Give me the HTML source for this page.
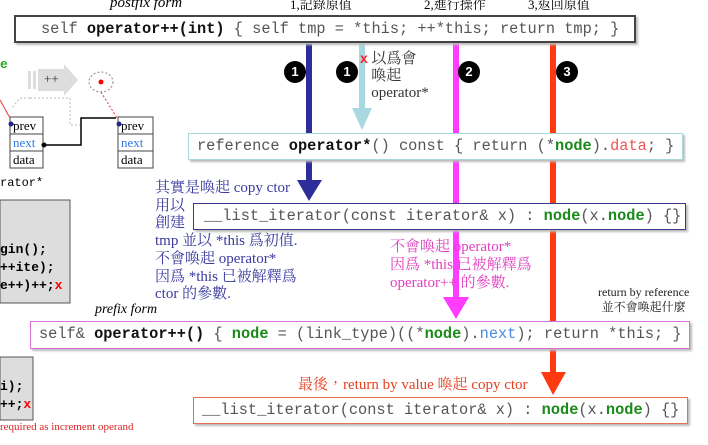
<!DOCTYPE html>
<html><head><meta charset="utf-8"><style>
html,body{margin:0;padding:0;background:#fff;}
body{width:708px;height:445px;position:relative;overflow:hidden;font-family:"Liberation Serif","Noto Serif CJK SC",serif;}
.a{position:absolute;white-space:nowrap;}
.box{position:absolute;background:#fff;box-sizing:border-box;font-family:"Liberation Mono",monospace;font-size:15.3px;color:#555;padding-left:8px;line-height:25px;box-shadow:2px 2px 2px #bbb;}
.b{font-weight:bold;color:#111;}
.g{color:#1a8a1a;font-weight:bold;}
.m{font-family:"Liberation Mono",monospace;}
.c{position:absolute;width:22px;height:22px;border-radius:50%;background:#000;color:#fff;font:bold 13px "Liberation Sans",sans-serif;text-align:center;line-height:22px;}
.cj{font-family:"Liberation Serif","Noto Serif CJK TC",serif;}
</style></head><body>
<svg class="a" style="left:0;top:0" width="708" height="445">
<!-- linked list fragment -->
<rect x="28" y="71" width="3" height="18" fill="#ddd"/><rect x="33" y="71" width="3" height="18" fill="#ddd"/><rect x="38" y="69" width="26" height="22" fill="#ddd"/><polygon points="64,64 78,80 64,96" fill="#ddd"/>
<ellipse cx="101" cy="82" rx="12" ry="10" fill="none" stroke="#888" stroke-dasharray="2,2"/>
<circle cx="101" cy="82" r="2.5" fill="red"/>
<polyline points="30,98 20,98 12,108" fill="none" stroke="#bbb" stroke-dasharray="2,2"/>
<polyline points="30,98 70,98 70,125 80,125" fill="none" stroke="#bbb" stroke-dasharray="2,2"/>
<line x1="101" y1="92" x2="117" y2="118" stroke="#e33" stroke-dasharray="2,2"/>
<rect x="10" y="117" width="33" height="17" fill="#fff" stroke="#444"/><rect x="10" y="134" width="33" height="17" fill="#fff" stroke="#444"/><rect x="10" y="151" width="33" height="17" fill="#fff" stroke="#444"/>
<rect x="118" y="117" width="35" height="17" fill="#fff" stroke="#444"/><rect x="118" y="134" width="35" height="17" fill="#fff" stroke="#444"/><rect x="118" y="151" width="35" height="17" fill="#fff" stroke="#444"/>
<polyline points="44,145 81,145 81,118 116,118" fill="none" stroke="#000" stroke-width="1.5"/>
<circle cx="44" cy="145" r="2.5" fill="#000"/>
<circle cx="11" cy="124" r="2.5" fill="#228"/><circle cx="119" cy="124" r="2.5" fill="#228"/>
<line x1="0" y1="100" x2="10" y2="118" stroke="#e33"/>
<rect x="0" y="200" width="70" height="103" fill="#ddd" stroke="#555"/>
<rect x="0" y="357" width="33" height="63" fill="#ddd" stroke="#555"/>
<!-- arrows -->
<line x1="362" y1="42" x2="362" y2="110" stroke="#a8d8e0" stroke-width="6"/>
<polygon points="352,108 372,108 362,130" fill="#a8d8e0"/>
<line x1="309" y1="42" x2="309" y2="182" stroke="#2e2e9a" stroke-width="6"/>
<polygon points="297,180 322,180 309,201" fill="#2e2e9a"/>
<line x1="456" y1="42" x2="456" y2="298" stroke="#ff3cff" stroke-width="6"/>
<polygon points="443,297 469,297 456,319" fill="#ff3cff"/>
<line x1="553" y1="42" x2="553" y2="374" stroke="#ff3a10" stroke-width="6"/>
<polygon points="541,372 566,372 553,395" fill="#ff3a10"/>
</svg>
<div class="a" style="left:110px;top:-5px;font-style:italic;font-size:15px;">postfix form</div>
<div class="a cj" style="left:290px;top:-6px;font-size:13px;">1,記錄原值</div>
<div class="a cj" style="left:424px;top:-6px;font-size:13px;">2,進行操作</div>
<div class="a cj" style="left:528px;top:-6px;font-size:13px;">3,返回原值</div>
<div class="a" style="left:0;top:57px;color:#2a2;font:bold 13px 'Liberation Mono',monospace;">e</div>
<div class="a" style="left:44px;top:71px;font-size:13px;color:#333;">++</div>
<div class="a" style="left:13px;top:117px;font-size:13px;line-height:17px;">prev<br><span style="color:#2a7ae0">next</span><br>data</div>
<div class="a" style="left:121px;top:117px;font-size:13px;line-height:17px;">prev<br><span style="color:#2a7ae0">next</span><br>data</div>
<div class="a m" style="left:0;top:176px;font-size:12px;">rator*</div>
<div class="a m" style="left:0;top:241px;font-size:13px;font-weight:bold;line-height:18px;">gin();<br>++ite);<br>e++)++;<span style="color:red">x</span></div>
<div class="a m" style="left:0;top:378px;font-size:13px;font-weight:bold;line-height:18px;">i);<br>++;<span style="color:red">x</span></div>
<div class="a" style="left:0;top:421px;font-size:11px;color:#d22;">required as increment operand</div>

<div class="box" style="left:14px;top:15px;width:622px;height:28px;border:2px solid #444;padding-left:25px;">self <span class="b">operator++(int)</span> { self tmp = *this;  ++*this; return tmp; }</div>
<div class="c" style="left:284px;top:61px;">1</div>
<div class="c" style="left:336px;top:61px;">1</div>
<div class="c" style="left:458px;top:61px;">2</div>
<div class="c" style="left:556px;top:61px;">3</div>
<div class="a cj" style="left:360px;top:50px;font-size:15px;line-height:17px;color:#333;"><span style="color:#f22;font:bold 14px 'Liberation Sans',sans-serif">x</span> 以爲會<br>&nbsp;&nbsp;&nbsp;喚起<br>&nbsp;&nbsp;&nbsp;operator*</div>
<div class="box" style="left:188px;top:133px;width:495px;height:27px;border:1.5px solid #a8d8d8;">reference <span class="b">operator*</span>() const { return (*<span class="g">node</span>).<span style="color:#e55">data</span>; }</div>
<div class="a cj" style="left:155px;top:180px;font-size:15px;line-height:17.7px;color:#3a3aa0;">其實是喚起 copy ctor<br>用以<br>創建<br>tmp 並以 *this 爲初值.<br>不會喚起 operator*<br>因爲 *this 已被解釋爲<br>ctor 的參數.</div>
<div class="box" style="left:193px;top:203px;width:493px;height:27px;border:1.5px solid #3a3a8a;padding-left:10px;">__list_iterator(const iterator&amp; x) : <span class="g">node</span>(x.<span class="g">node</span>) {}</div>
<div class="a cj" style="left:390px;top:238px;font-size:15px;line-height:18px;color:#e040c0;">不會喚起 operator*<br>因爲 *this 已被解釋爲<br>operator++ 的參數.</div>
<div class="a cj" style="left:598px;top:285px;font-size:12px;line-height:15px;text-align:center;color:#222;">return by reference<br>並不會喚起什麼</div>
<div class="a" style="left:95px;top:302px;font-style:italic;font-size:14px;">prefix form</div>
<div class="box" style="left:30px;top:321px;width:660px;height:28px;border:1.5px solid #d870d8;">self&amp; <span class="b">operator++()</span> { <span class="g">node</span> = (link_type)((*<span class="g">node</span>).<span style="color:#4a8ae0">next</span>); return *this; }</div>
<div class="a cj" style="left:298px;top:373px;font-size:15px;color:#e84020;">最後，return by value 喚起 copy ctor</div>
<div class="box" style="left:193px;top:397px;width:495px;height:27px;border:1.5px solid #e87050;">__list_iterator(const iterator&amp; x) : <span class="g">node</span>(x.<span class="g">node</span>) {}</div>
</body></html>
